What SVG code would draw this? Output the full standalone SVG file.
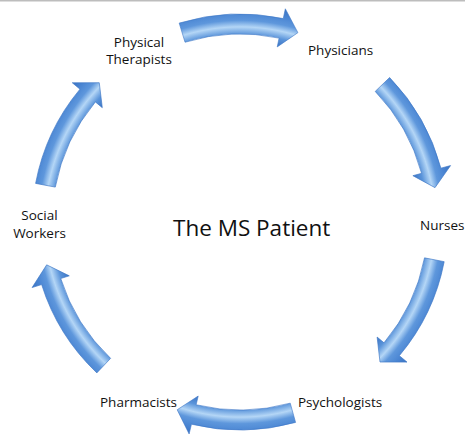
<svg xmlns="http://www.w3.org/2000/svg" xmlns:xlink="http://www.w3.org/1999/xlink" width="465" height="439" viewBox="0 0 465 439">
  <style>
    .lbl { font-family: "Open Sans", "Noto Sans", "Liberation Sans", sans-serif; font-size: 13.5px; fill: #111111; }
    .title { font-family: "Open Sans", "Noto Sans", "Liberation Sans", sans-serif; font-size: 22.5px; fill: #111111; }
    .arrow { fill: url(#tube); stroke: #3f78c6; stroke-width: 0.6; stroke-linejoin: round; }
  </style>
  <defs>
    <!-- radial shading across the curved band gives the tube highlight -->
    <radialGradient id="tube" gradientUnits="userSpaceOnUse" cx="0" cy="0" r="218">
      <stop offset="0.82" stop-color="#3b74c4"/>
      <stop offset="0.86" stop-color="#5a94da"/>
      <stop offset="0.895" stop-color="#b4d6f6"/>
      <stop offset="0.925" stop-color="#5e97dc"/>
      <stop offset="0.96" stop-color="#4b86d3"/>
      <stop offset="1" stop-color="#3a73c3"/>
    </radialGradient>
    <!-- curved arrow on a ring of radius 198 about the origin, pointing clockwise -->
    <path id="arc-arrow" class="arrow"
          d="M -60.82 -198.91 A 208 208 0 0 1 43.25 -203.45 L 45.32 -213.23 L 57.90 -189.35 L 37.22 -175.08 L 39.09 -183.88 A 188 188 0 0 0 -54.97 -179.78 Z"/>
  </defs>

  <rect x="0" y="0" width="465" height="1.5" fill="#bdbdbd"/>

  <g id="connectors" transform="translate(240 222)">
    <use xlink:href="#arc-arrow" href="#arc-arrow"/>
    <use xlink:href="#arc-arrow" href="#arc-arrow" transform="rotate(63)"/>
    <use xlink:href="#arc-arrow" href="#arc-arrow" transform="rotate(118)"/>
    <use xlink:href="#arc-arrow" href="#arc-arrow" transform="rotate(181.5)"/>
    <use xlink:href="#arc-arrow" href="#arc-arrow" transform="rotate(240.5)"/>
    <use xlink:href="#arc-arrow" href="#arc-arrow" transform="rotate(297.7)"/>
  </g>

  <g id="patient">
    <text class="title" x="173" y="236">The MS Patient</text>
  </g>
  <g id="physical-therapists">
    <text class="lbl" x="139" y="47" text-anchor="middle">Physical</text>
    <text class="lbl" x="139" y="64" text-anchor="middle">Therapists</text>
  </g>
  <g id="physicians">
    <text class="lbl" x="308" y="55">Physicians</text>
  </g>
  <g id="nurses">
    <text class="lbl" x="420" y="230">Nurses</text>
  </g>
  <g id="psychologists">
    <text class="lbl" x="298" y="407">Psychologists</text>
  </g>
  <g id="pharmacists">
    <text class="lbl" x="100" y="407">Pharmacists</text>
  </g>
  <g id="social-workers">
    <text class="lbl" x="39.5" y="220" text-anchor="middle">Social</text>
    <text class="lbl" x="39.5" y="238" text-anchor="middle">Workers</text>
  </g>
</svg>
